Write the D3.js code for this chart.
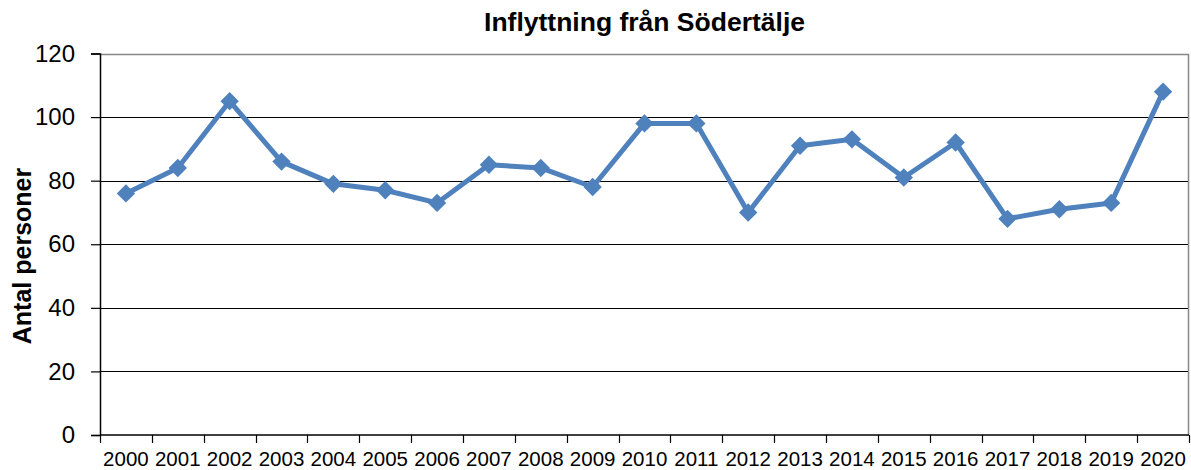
<!DOCTYPE html>
<html>
<head>
<meta charset="utf-8">
<script src="https://cdn.jsdelivr.net/npm/d3@7"></script>
<style>
  html, body { margin: 0; padding: 0; background: #fff; }
  svg { display: block; font-family: "Liberation Sans", Arial, sans-serif; }
</style>
</head>
<body>
<svg id="chart" width="1191" height="470"></svg>
<script>
// Inflyttning från Södertälje, antal personer per år
const years = ["2000","2001","2002","2003","2004","2005","2006","2007","2008","2009","2010",
               "2011","2012","2013","2014","2015","2016","2017","2018","2019","2020"];
const persons = [76, 84, 105, 86, 79, 77, 73, 85, 84, 78, 98, 98, 70, 91, 93, 81, 92, 68, 71, 73, 108];
const yTicks = [0, 20, 40, 60, 80, 100, 120];
const chartTitle = "Inflyttning från Södertälje";
const yTitle = "Antal personer";

const svg = d3.select("#chart");
const plot = { left: 100, right: 1189, top: 53.5, bottom: 435 };

const x = d3.scaleBand().domain(years).range([plot.left, plot.right]).padding(0);
const y = d3.scaleLinear().domain([0, 120]).range([plot.bottom, plot.top]);

// horizontal gridlines
svg.append("g")
  .selectAll("line")
  .data(yTicks.filter(d => d > 0 && d < 120))
  .join("line")
  .attr("x1", plot.left).attr("x2", plot.right)
  .attr("y1", d => Math.round(y(d)) + 0.5).attr("y2", d => Math.round(y(d)) + 0.5)
  .attr("stroke", "#000").attr("stroke-width", 1.2);

// plot frame (top and right edges)
svg.append("path")
  .attr("d", `M${plot.left},${Math.round(plot.top) + 0.5}H${plot.right - 0.5}V${plot.bottom}`)
  .attr("fill", "none").attr("stroke", "#888").attr("stroke-width", 1.5);

// y axis
const yAxis = svg.append("g")
  .attr("transform", `translate(${plot.left},0)`)
  .call(d3.axisLeft(y).tickValues(yTicks).tickSize(9).tickPadding(16).tickFormat(d3.format("d")));
yAxis.select(".domain").attr("stroke", "#000").attr("stroke-width", 1.5);
yAxis.selectAll(".tick line").attr("stroke", "#000").attr("stroke-width", 1.2);
yAxis.selectAll(".tick text")
  .attr("font-size", 24).attr("fill", "#000").attr("font-family", "Liberation Sans, Arial, sans-serif");

// x axis: ticks on category boundaries, labels on category centres
const xAxisG = svg.append("g").attr("transform", `translate(0,${plot.bottom})`);
xAxisG.append("line")
  .attr("x1", plot.left).attr("x2", plot.right)
  .attr("stroke", "#000").attr("stroke-width", 1.5);
const boundaries = years.map(d => x(d)).concat([plot.right]);
xAxisG.selectAll(".xtick")
  .data(boundaries)
  .join("line")
  .attr("class", "xtick")
  .attr("x1", d => Math.round(d) + 0.5).attr("x2", d => Math.round(d) + 0.5)
  .attr("y1", 0).attr("y2", 8)
  .attr("stroke", "#000").attr("stroke-width", 1.2);
xAxisG.selectAll(".xlabel")
  .data(years)
  .join("text")
  .attr("class", "xlabel")
  .attr("x", d => x(d) + x.bandwidth() / 2)
  .attr("y", 31)
  .attr("text-anchor", "middle")
  .attr("font-size", 20.5)
  .attr("fill", "#000")
  .text(d => d);

// series line
const line = d3.line()
  .x((d, i) => x(years[i]) + x.bandwidth() / 2)
  .y(d => y(d));
svg.append("path")
  .datum(persons)
  .attr("d", line)
  .attr("fill", "none")
  .attr("stroke", "#4F81BD")
  .attr("stroke-width", 5)
  .attr("stroke-linejoin", "round");

// diamond markers
const diamond = d3.symbol().type(d3.symbolDiamond2).size(215);
svg.append("g")
  .selectAll("path")
  .data(persons)
  .join("path")
  .attr("transform", (d, i) => `translate(${x(years[i]) + x.bandwidth() / 2},${y(d)})`)
  .attr("d", diamond)
  .attr("fill", "#4F81BD");

// chart title
svg.append("text")
  .attr("x", (plot.left + plot.right) / 2)
  .attr("y", 31)
  .attr("text-anchor", "middle")
  .attr("font-size", 26.5)
  .attr("font-weight", "bold")
  .attr("fill", "#000")
  .text(chartTitle);

// y axis title
svg.append("text")
  .attr("transform", "translate(31,256) rotate(-90)")
  .attr("text-anchor", "middle")
  .attr("font-size", 25)
  .attr("font-weight", "bold")
  .attr("fill", "#000")
  .text(yTitle);
</script>
</body>
</html>
